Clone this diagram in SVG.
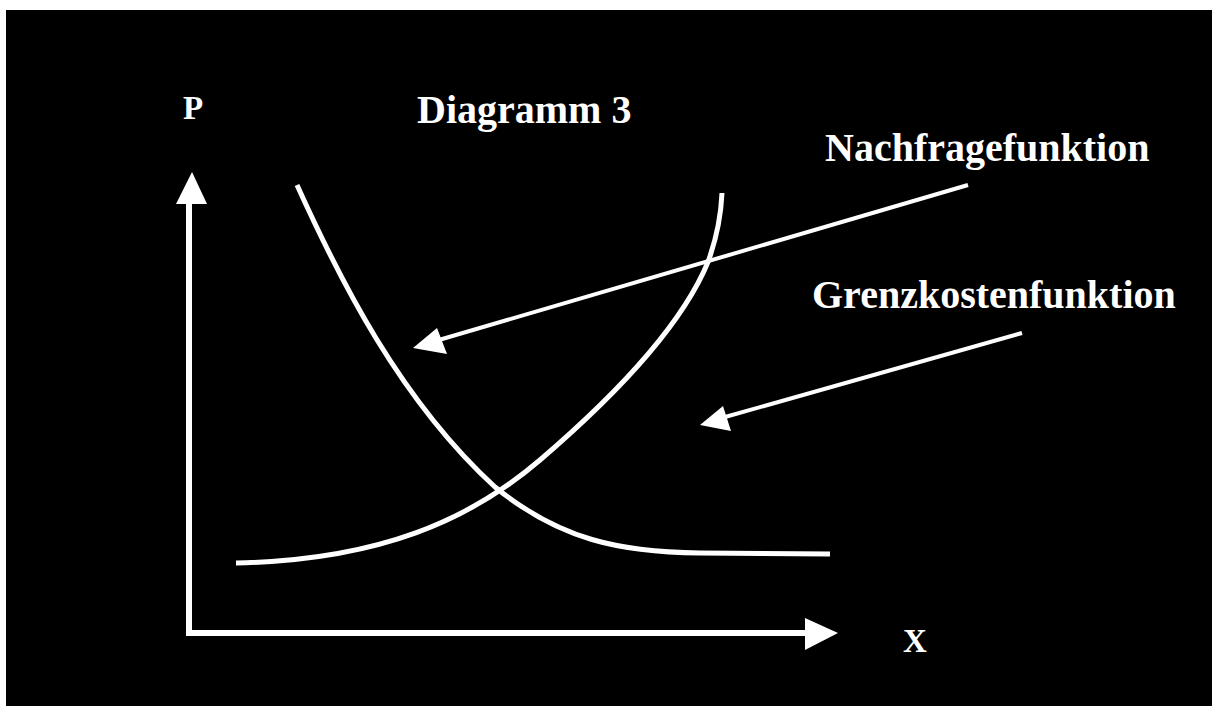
<svg xmlns="http://www.w3.org/2000/svg" width="1212" height="706" viewBox="0 0 1212 706">
<style>
.lbl{font-family:"Liberation Serif","Times New Roman",serif;font-weight:bold;fill:#fff}
.curve{fill:none;stroke:#fff;stroke-width:5;stroke-linecap:butt}
.axis{fill:none;stroke:#fff;stroke-width:6}
.ptr{fill:none;stroke:#fff;stroke-width:4}
.head{fill:#fff}
</style>
<rect x="0" y="0" width="1212" height="706" fill="#fff"/>
<rect x="6" y="10" width="1206" height="696" fill="#000"/>
<g id="axes">
<path class="axis" d="M189,200 V633 H808"/>
<polygon class="head" points="192,172 176,204 207,204"/>
<polygon class="head" points="838,633 805,618 805,650"/>
</g>
<g id="demand-curve">
<path class="curve" d="M297,185 C340,280 400,400 495,487 C560,540 620,552 700,553 L830,554"/>
</g>
<g id="mc-curve">
<path class="curve" d="M236,563 C380,560 470,520 540,460 C610,400 680,330 708,262 C716,240 721,215 722,193"/>
</g>
<g id="connectors">
<line class="ptr" x1="968" y1="185" x2="432" y2="342"/>
<polygon class="head" points="413,348 437,328 447,354"/>
<line class="ptr" x1="1022" y1="333" x2="718" y2="419"/>
<polygon class="head" points="700,425 723,406 731,431"/>
</g>
<g id="labels">
<text class="lbl" x="183" y="119" font-size="33">P</text>
<text class="lbl" x="417" y="123" font-size="40">Diagramm 3</text>
<text class="lbl" x="825" y="161" font-size="40">Nachfragefunktion</text>
<text class="lbl" x="812" y="308" font-size="40">Grenzkostenfunktion</text>
<text class="lbl" x="903" y="652" font-size="33">X</text>
</g>
</svg>
